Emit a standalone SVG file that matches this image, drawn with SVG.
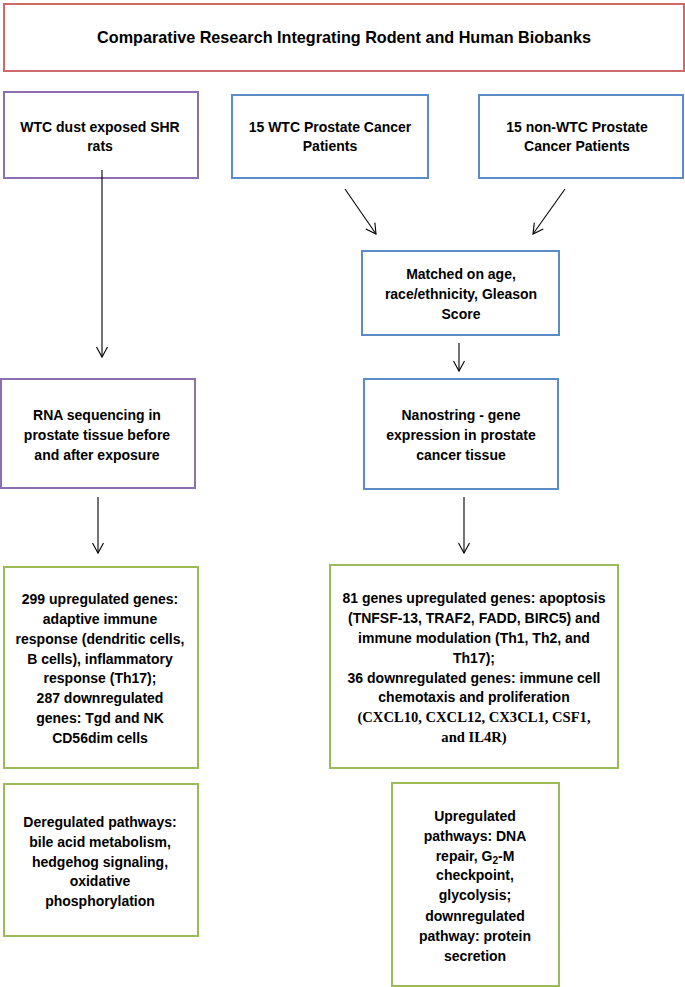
<svg xmlns="http://www.w3.org/2000/svg" width="685" height="987" viewBox="0 0 685 987">
<style>
.box{fill:#fff;stroke-width:2}
.red{stroke:#d06a6a}
.pur{stroke:#8d6fb0}
.blu{stroke:#5b8cc8}
.grn{stroke:#9bbb59}
text{font-family:"Liberation Sans",Arial,sans-serif;font-weight:bold;font-size:14px;fill:#000;text-anchor:middle}
.ttl{font-size:16.2px}
.serif{font-family:"Liberation Serif","Times New Roman",serif;font-size:14.6px}
.conn line{stroke:#000;stroke-width:1.1;fill:none}
</style>
<defs>
<marker id="arr" markerUnits="userSpaceOnUse" markerWidth="14" markerHeight="14" viewBox="0 0 14 14" refX="12" refY="7" orient="auto">
<path d="M2,1.5 L12,7 L2,12.5" fill="none" stroke="#000" stroke-width="1.1"/>
</marker>
</defs>
<rect width="685" height="987" fill="#fff"/>
<g id="title">
<rect class="box red" x="4" y="4" width="680" height="67"/>
<text class="ttl" x="344" y="43">Comparative Research Integrating Rodent and Human Biobanks</text>
</g>
<g id="rats">
<rect class="box pur" x="4" y="92" width="194" height="86"/>
<text x="100" y="132">WTC dust exposed SHR</text>
<text x="100" y="151">rats</text>
</g>
<g id="wtc">
<rect class="box blu" x="232" y="95" width="196" height="83"/>
<text x="330" y="132">15 WTC Prostate Cancer</text>
<text x="330" y="151">Patients</text>
</g>
<g id="nonwtc">
<rect class="box blu" x="479" y="95" width="204" height="83"/>
<text x="577" y="132">15 non-WTC Prostate</text>
<text x="577" y="151">Cancer Patients</text>
</g>
<g id="matched">
<rect class="box blu" x="362" y="251" width="197" height="84"/>
<text x="461" y="279">Matched on age,</text>
<text x="461" y="299">race/ethnicity, Gleason</text>
<text x="461" y="319">Score</text>
</g>
<g id="rnaseq">
<rect class="box pur" x="1" y="379" width="194" height="109"/>
<text x="97" y="420">RNA sequencing in</text>
<text x="97" y="440">prostate tissue before</text>
<text x="97" y="460">and after exposure</text>
</g>
<g id="nanostring">
<rect class="box blu" x="364" y="379" width="194" height="110"/>
<text x="461" y="420">Nanostring - gene</text>
<text x="461" y="440">expression in prostate</text>
<text x="461" y="460">cancer tissue</text>
</g>
<g id="ratgenes">
<rect class="box grn" x="4" y="567" width="194" height="201"/>
<text x="100" y="604">299 upregulated genes:</text>
<text x="100" y="624">adaptive immune</text>
<text x="100" y="644">response (dendritic cells,</text>
<text x="100" y="664">B cells), inflammatory</text>
<text x="100" y="683">response (Th17);</text>
<text x="100" y="703">287 downregulated</text>
<text x="100" y="723">genes: Tgd and NK</text>
<text x="100" y="743">CD56dim cells</text>
</g>
<g id="humangenes">
<rect class="box grn" x="330" y="565" width="288" height="203"/>
<text x="474" y="603">81 genes upregulated genes: apoptosis</text>
<text x="474" y="623">(TNFSF-13, TRAF2, FADD, BIRC5) and</text>
<text x="474" y="643">immune modulation (Th1, Th2, and</text>
<text x="474" y="663">Th17);</text>
<text x="474" y="683">36 downregulated genes: immune cell</text>
<text x="474" y="702">chemotaxis and proliferation</text>
<text class="serif" x="474" y="722">(CXCL10, CXCL12, CX3CL1, CSF1,</text>
<text class="serif" x="474" y="742">and IL4R)</text>
</g>
<g id="ratpathways">
<rect class="box grn" x="4" y="784" width="194" height="152"/>
<text x="100" y="827">Deregulated pathways:</text>
<text x="100" y="847">bile acid metabolism,</text>
<text x="100" y="867">hedgehog signaling,</text>
<text x="100" y="886">oxidative</text>
<text x="100" y="906">phosphorylation</text>
</g>
<g id="humanpathways">
<rect class="box grn" x="392" y="783" width="167" height="203"/>
<text x="475" y="821">Upregulated</text>
<text x="475" y="841">pathways: DNA</text>
<text x="475" y="861">repair, G<tspan font-size="10" dy="3">2</tspan><tspan dy="-3">-M</tspan></text>
<text x="475" y="880">checkpoint,</text>
<text x="475" y="900">glycolysis;</text>
<text x="475" y="921">downregulated</text>
<text x="475" y="941">pathway: protein</text>
<text x="475" y="961">secretion</text>
</g>
<g class="conn" id="connectors">
<line x1="102" y1="170" x2="102" y2="357" marker-end="url(#arr)"/>
<line x1="345" y1="189" x2="376" y2="234" marker-end="url(#arr)"/>
<line x1="565" y1="189" x2="533" y2="234" marker-end="url(#arr)"/>
<line x1="459" y1="343" x2="459" y2="371" marker-end="url(#arr)"/>
<line x1="98" y1="497" x2="98" y2="553" marker-end="url(#arr)"/>
<line x1="464" y1="497" x2="464" y2="553" marker-end="url(#arr)"/>
</g>
</svg>
